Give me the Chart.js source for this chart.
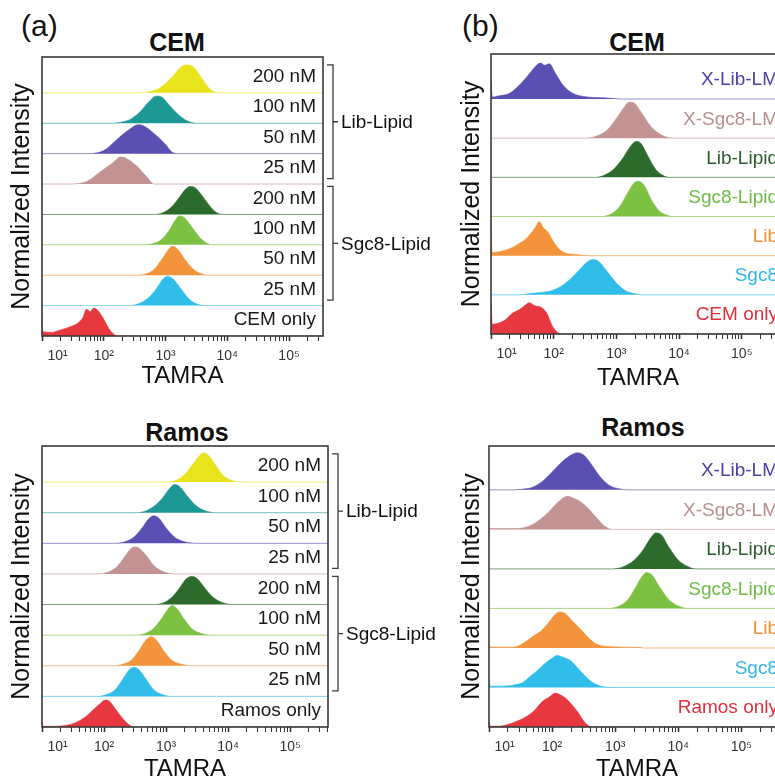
<!DOCTYPE html>
<html>
<head>
<meta charset="utf-8">
<script src="https://cdn.jsdelivr.net/npm/chart.js@4/dist/chart.umd.min.js"></script>
<style>
  html, body { margin: 0; padding: 0; background: #fff; }
  body { width: 775px; height: 781px; overflow: hidden; position: relative; font-family: 'Liberation Sans', Arial, sans-serif; color: #111; }
  canvas { position: absolute; }
  .lbl { position: absolute; line-height: 1; white-space: nowrap; }
  .ttl { font-weight: bold; font-size: 25px; transform: translateX(-50%); }
  .pl { font-size: 30px; }
</style>
</head>
<body>
<div class="lbl pl" style="left:21px;top:11px">(a)</div>
<div class="lbl pl" style="left:462px;top:11px">(b)</div>
<div class="lbl ttl" style="left:177px;top:30px">CEM</div>
<div class="lbl ttl" style="left:637px;top:30px">CEM</div>
<div class="lbl ttl" style="left:187px;top:420px">Ramos</div>
<div class="lbl ttl" style="left:643px;top:415px">Ramos</div>

<canvas id="cemConc" width="440" height="400" style="left:0;top:0"></canvas>
<canvas id="cemProbe" width="360" height="400" style="left:440px;top:0"></canvas>
<canvas id="ramosConc" width="440" height="420" style="left:0;top:390px"></canvas>
<canvas id="ramosProbe" width="360" height="420" style="left:440px;top:390px"></canvas>

<script>
'use strict';
// x axis (TAMRA, log)
const decades = [10, 100, 1000, 10000, 100000];
const decadeLabels = ['10¹', '10²', '10³', '10⁴', '10⁵'];

// row labels, top row first
const concLabels = ['200 nM', '100 nM', '50 nM', '25 nM', '200 nM', '100 nM', '50 nM', '25 nM'];
const groupNames = ['Lib-Lipid', 'Sgc8-Lipid'];
const groupRows = [[0, 3], [4, 7]];
const probeLabels = ['X-Lib-LM', 'X-Sgc8-LM', 'Lib-Lipid', 'Sgc8-Lipid', 'Lib', 'Sgc8'];

const concColors = ['#e9e31e', '#1d9995', '#5a4fb2', '#c39393', '#2c6b2c', '#7dc143', '#f3943c', '#31bdea', '#e8383f'];
const probeColors = ['#5a4fb2', '#c39393', '#2c6b2c', '#7dc143', '#f3943c', '#31bdea', '#e8383f'];
const probeTextColors = ['#4c3fa6', '#b58f8f', '#2b5a2b', '#6dbb43', '#ef8f37', '#2fb6e6', '#e0303c'];

// histograms, top row first: [log10 TAMRA, normalized count]
const cemConcPeaks = [
  [[2.6,0],[2.75,0.04],[2.9,0.15],[3.05,0.4],[3.15,0.62],[3.25,0.85],[3.32,0.92],[3.42,0.9],[3.52,0.68],[3.62,0.38],[3.72,0.12],[3.85,0]],
  [[2.1,0],[2.3,0.04],[2.45,0.15],[2.6,0.4],[2.72,0.68],[2.85,0.89],[2.93,0.87],[3.05,0.62],[3.2,0.3],[3.35,0.08],[3.5,0]],
  [[1.75,0],[1.9,0.03],[2.0,0.1],[2.18,0.4],[2.3,0.62],[2.42,0.8],[2.55,0.95],[2.63,0.93],[2.72,0.82],[2.85,0.6],[3.0,0.3],[3.1,0.06],[3.2,0]],
  [[1.45,0],[1.6,0.02],[1.74,0.1],[1.94,0.4],[2.15,0.7],[2.27,0.89],[2.35,0.86],[2.53,0.6],[2.69,0.25],[2.82,0]],
  [[2.8,0],[2.95,0.05],[3.1,0.25],[3.22,0.55],[3.32,0.82],[3.4,0.92],[3.48,0.88],[3.58,0.65],[3.7,0.32],[3.8,0.1],[3.92,0]],
  [[2.6,0],[2.8,0.04],[2.92,0.15],[3.05,0.45],[3.15,0.78],[3.22,0.95],[3.3,0.9],[3.42,0.6],[3.55,0.25],[3.65,0.08],[3.76,0]],
  [[2.5,0],[2.68,0.04],[2.82,0.2],[2.95,0.55],[3.05,0.85],[3.11,0.95],[3.2,0.85],[3.32,0.5],[3.45,0.2],[3.58,0.05],[3.71,0]],
  [[2.4,0],[2.55,0.05],[2.72,0.25],[2.85,0.55],[2.95,0.85],[3.03,0.97],[3.12,0.88],[3.25,0.55],[3.38,0.22],[3.5,0.06],[3.63,0]],
  [[1.0,0.95],[1.01,0.15],[1.15,0.12],[1.3,0.2],[1.45,0.3],[1.58,0.42],[1.66,0.6],[1.72,0.88],[1.78,0.8],[1.84,0.92],[1.92,0.8],[2.0,0.55],[2.08,0.25],[2.15,0.08],[2.22,0]]
];

const cemProbePeaks = [
  [[1.0,0.48],[1.02,0.05],[1.12,0.08],[1.3,0.15],[1.45,0.35],[1.6,0.62],[1.72,0.85],[1.79,0.92],[1.86,0.86],[1.93,0.9],[2.03,0.65],[2.15,0.35],[2.3,0.15],[2.5,0.06],[2.8,0.03],[3.0,0.01],[3.1,0]],
  [[2.5,0],[2.68,0.05],[2.85,0.2],[3.0,0.5],[3.12,0.78],[3.2,0.92],[3.28,0.9],[3.4,0.65],[3.55,0.3],[3.72,0.08],[3.92,0]],
  [[2.65,0],[2.8,0.05],[2.95,0.2],[3.1,0.48],[3.22,0.78],[3.32,0.92],[3.4,0.85],[3.5,0.55],[3.62,0.22],[3.72,0.07],[3.84,0]],
  [[2.75,0],[2.9,0.05],[3.05,0.25],[3.18,0.6],[3.28,0.85],[3.35,0.9],[3.45,0.78],[3.55,0.45],[3.68,0.15],[3.78,0.05],[3.9,0]],
  [[1.0,0.9],[1.02,0.08],[1.13,0.1],[1.3,0.18],[1.42,0.28],[1.55,0.42],[1.65,0.6],[1.72,0.75],[1.77,0.87],[1.83,0.72],[1.9,0.62],[2.0,0.35],[2.1,0.15],[2.2,0.06],[2.35,0.03],[2.55,0]],
  [[1.45,0],[1.6,0.03],[1.8,0.06],[1.95,0.1],[2.1,0.2],[2.25,0.38],[2.4,0.62],[2.52,0.82],[2.62,0.9],[2.72,0.85],[2.85,0.6],[3.0,0.3],[3.15,0.1],[3.3,0.03],[3.4,0]],
  [[1.0,0.85],[1.02,0.25],[1.1,0.27],[1.22,0.35],[1.34,0.53],[1.45,0.62],[1.55,0.74],[1.61,0.8],[1.7,0.72],[1.8,0.68],[1.89,0.53],[1.98,0.2],[2.05,0.06],[2.12,0]]
];

const ramosConcPeaks = [
  [[3.0,0],[3.15,0.05],[3.3,0.25],[3.42,0.55],[3.52,0.82],[3.6,0.95],[3.68,0.88],[3.8,0.55],[3.92,0.22],[4.05,0.06],[4.2,0]],
  [[2.5,0],[2.65,0.04],[2.8,0.2],[2.95,0.5],[3.06,0.8],[3.14,0.92],[3.22,0.85],[3.35,0.52],[3.5,0.2],[3.65,0.05],[3.82,0]],
  [[2.15,0],[2.32,0.04],[2.48,0.2],[2.62,0.52],[2.72,0.8],[2.8,0.9],[2.88,0.83],[3.0,0.5],[3.15,0.18],[3.3,0.05],[3.5,0]],
  [[1.9,0],[2.05,0.05],[2.2,0.22],[2.33,0.55],[2.43,0.82],[2.5,0.88],[2.56,0.85],[2.68,0.6],[2.8,0.28],[2.95,0.08],[3.12,0]],
  [[2.8,0],[2.95,0.05],[3.1,0.25],[3.22,0.55],[3.33,0.85],[3.42,0.92],[3.5,0.85],[3.62,0.55],[3.75,0.25],[3.9,0.07],[4.08,0]],
  [[2.5,0],[2.65,0.05],[2.8,0.22],[2.93,0.55],[3.03,0.85],[3.1,0.97],[3.18,0.85],[3.3,0.5],[3.42,0.2],[3.56,0.06],[3.72,0]],
  [[2.15,0],[2.3,0.05],[2.45,0.2],[2.58,0.55],[2.68,0.85],[2.76,0.95],[2.84,0.85],[2.95,0.52],[3.08,0.2],[3.25,0.05],[3.42,0]],
  [[1.88,0],[2.03,0.05],[2.18,0.22],[2.3,0.55],[2.4,0.85],[2.48,0.95],[2.56,0.88],[2.68,0.55],[2.8,0.22],[2.95,0.05],[3.1,0]],
  [[1.0,0.17],[1.02,0.02],[1.2,0.02],[1.4,0.06],[1.55,0.15],[1.7,0.33],[1.82,0.55],[1.93,0.75],[2.02,0.88],[2.08,0.85],[2.18,0.6],[2.3,0.28],[2.4,0.08],[2.48,0]]
];

const ramosProbePeaks = [
  [[1.4,0],[1.55,0.02],[1.68,0.06],[1.85,0.22],[2.0,0.45],[2.15,0.7],[2.3,0.88],[2.4,0.94],[2.5,0.88],[2.62,0.65],[2.75,0.35],[2.9,0.12],[3.05,0.03],[3.2,0]],
  [[1.0,0.02],[1.4,0.02],[1.6,0.06],[1.75,0.18],[1.92,0.4],[2.05,0.62],[2.18,0.8],[2.25,0.84],[2.32,0.8],[2.45,0.7],[2.56,0.55],[2.7,0.3],[2.82,0.1],[2.95,0]],
  [[2.95,0],[3.12,0.05],[3.3,0.22],[3.45,0.5],[3.56,0.78],[3.64,0.91],[3.72,0.88],[3.85,0.55],[4.0,0.22],[4.15,0.06],[4.28,0]],
  [[2.88,0],[3.05,0.05],[3.2,0.22],[3.33,0.55],[3.43,0.82],[3.5,0.91],[3.58,0.85],[3.7,0.55],[3.85,0.22],[4.0,0.06],[4.15,0]],
  [[1.0,0.08],[1.02,0.02],[1.3,0.02],[1.45,0.04],[1.6,0.18],[1.72,0.32],[1.82,0.42],[1.95,0.65],[2.05,0.85],[2.12,0.91],[2.2,0.88],[2.32,0.68],[2.45,0.48],[2.58,0.25],[2.7,0.1],[2.85,0.04],[3.4,0.01],[3.45,0]],
  [[1.0,0.2],[1.02,0.03],[1.3,0.04],[1.45,0.08],[1.53,0.12],[1.65,0.28],[1.76,0.42],[1.88,0.6],[1.98,0.72],[2.08,0.81],[2.18,0.76],[2.29,0.68],[2.4,0.5],[2.5,0.33],[2.62,0.15],[2.72,0.06],[2.85,0.01],[2.95,0]],
  [[1.0,0.15],[1.02,0.02],[1.15,0.02],[1.27,0.05],[1.45,0.15],[1.6,0.27],[1.72,0.42],[1.85,0.65],[1.95,0.75],[2.05,0.86],[2.12,0.82],[2.22,0.72],[2.32,0.55],[2.42,0.35],[2.5,0.15],[2.58,0.03],[2.62,0]]
];

Chart.defaults.font.family = "'Liberation Sans', Arial, sans-serif";
Chart.defaults.color = '#222';

// row labels, frame and group brackets
function overlay(labels, textColors, groups, labelLift) {
  return {
    id: 'overlay',
    afterDatasetsDraw(chart) {
      const { ctx, chartArea: a, scales: { y } } = chart;
      const n = labels.length;
      ctx.save();
      ctx.font = "19px 'Liberation Sans', Arial, sans-serif";
      ctx.textAlign = 'right';
      ctx.textBaseline = 'middle';
      labels.forEach((t, i) => {
        ctx.fillStyle = textColors[i];
        ctx.fillText(t, a.right - 7, y.getPixelForValue(n - 1 - i + labelLift));
      });
      ctx.strokeStyle = '#3a3a3a';
      ctx.lineWidth = 1.6;
      ctx.strokeRect(a.left, a.top, a.right - a.left, a.bottom - a.top);
      if (groups) {
        const bx = a.right + 10;
        ctx.lineWidth = 1.3;
        ctx.textAlign = 'left';
        groups.forEach(([r0, r1], g) => {
          const yt = y.getPixelForValue(n - 1 - r0 + 0.92);
          const yb = y.getPixelForValue(n - 1 - r1 + 0.18);
          const ym = (yt + yb) / 2;
          ctx.beginPath();
          ctx.moveTo(bx - 6, yt); ctx.lineTo(bx, yt); ctx.lineTo(bx, yb); ctx.lineTo(bx - 6, yb);
          ctx.moveTo(bx, ym); ctx.lineTo(bx + 5, ym);
          ctx.stroke();
          ctx.fillStyle = '#111';
          ctx.fillText(groupNames[g], bx + 8, ym + 1);
        });
      }
      ctx.restore();
    }
  };
}

function drawPanel(id, cfg) {
  const n = cfg.peaks.length;
  const xMax = 10 ** cfg.xMaxExp;
  const datasets = cfg.peaks.map((pk, i) => {
    const base = n - 1 - i;
    const pts = pk.map(([e, h]) => ({ x: 10 ** e, y: base + h }));
    if (pk[0][0] > 1) pts.unshift({ x: 10, y: base });
    pts.push({ x: xMax, y: base });
    return {
      data: pts,
      borderColor: cfg.colors[i] + 'a0',
      backgroundColor: cfg.colors[i],
      borderWidth: 1,
      pointRadius: 0,
      cubicInterpolationMode: 'monotone',
      fill: { value: base }
    };
  });

  new Chart(document.getElementById(id), {
    type: 'line',
    data: { datasets },
    options: {
      responsive: false,
      animation: false,
      devicePixelRatio: 1,
      layout: { padding: cfg.padding },
      plugins: { legend: { display: false }, tooltip: { enabled: false } },
      scales: {
        x: {
          type: 'logarithmic',
          min: 10,
          max: xMax,
          afterBuildTicks: s => {
            const t = [];
            decades.forEach(d => { for (let m = 1; m <= 9; m++) if (m * d <= s.max) t.push({ value: m * d }); });
            s.ticks = t;
          },
          afterFit: s => { s.height = cfg.xHeight; },
          border: { display: false },
          grid: {
            drawOnChartArea: false,
            tickLength: 5,
            tickColor: '#333',
            tickWidth: c => (c.tick && decades.includes(c.tick.value)) ? 1.6 : 1
          },
          ticks: {
            autoSkip: false,
            maxRotation: 0,
            minRotation: 0,
            padding: 7,
            color: '#333',
            font: { size: 14 },
            callback: v => {
              const k = decades.indexOf(v);
              if (k < 0) return '';
              return k === 0 ? '        ' + decadeLabels[k] : decadeLabels[k];
            }
          },
          title: { display: true, text: 'TAMRA', color: '#111', font: { size: 24 }, padding: { top: 0, bottom: 4 } }
        },
        y: {
          min: 0,
          max: n + cfg.headroom,
          afterFit: s => { s.width = cfg.yWidth; },
          border: { display: false },
          grid: { display: false, drawTicks: false },
          ticks: { display: false },
          title: { display: true, text: 'Normalized Intensity', color: '#111', font: { size: 25 }, padding: { top: cfg.titlePad, bottom: 0 } }
        }
      }
    },
    plugins: [overlay(cfg.labels, cfg.textColors, cfg.groups, cfg.labelLift)]
  });
}

const black = concColors.map(() => '#1a1a1a');

drawPanel('cemConc', {
  peaks: cemConcPeaks, colors: concColors, labels: [...concLabels, 'CEM only'], textColors: black,
  groups: groupRows, labelLift: 0.53, xMaxExp: 5.55, headroom: 0.18,
  padding: { left: 0, top: 57, right: 117, bottom: 5 }, yWidth: 42, xHeight: 59, titlePad: 7
});
drawPanel('cemProbe', {
  peaks: cemProbePeaks, colors: probeColors, labels: [...probeLabels, 'CEM only'], textColors: probeTextColors,
  groups: null, labelLift: 0.48, xMaxExp: 5.69, headroom: 0.15,
  padding: { left: 0, top: 54, right: 15, bottom: 3 }, yWidth: 51, xHeight: 63, titlePad: 17
});
drawPanel('ramosConc', {
  peaks: ramosConcPeaks, colors: concColors, labels: [...concLabels, 'Ramos only'], textColors: black,
  groups: groupRows, labelLift: 0.53, xMaxExp: 5.61, headroom: 0.18,
  padding: { left: 0, top: 56, right: 112, bottom: 22 }, yWidth: 42, xHeight: 61, titlePad: 7
});
drawPanel('ramosProbe', {
  peaks: ramosProbePeaks, colors: probeColors, labels: [...probeLabels, 'Ramos only'], textColors: probeTextColors,
  groups: null, labelLift: 0.48, xMaxExp: 5.69, headroom: 0.11,
  padding: { left: 0, top: 56, right: 15, bottom: 22 }, yWidth: 49, xHeight: 61, titlePad: 17
});
</script>
</body>
</html>
